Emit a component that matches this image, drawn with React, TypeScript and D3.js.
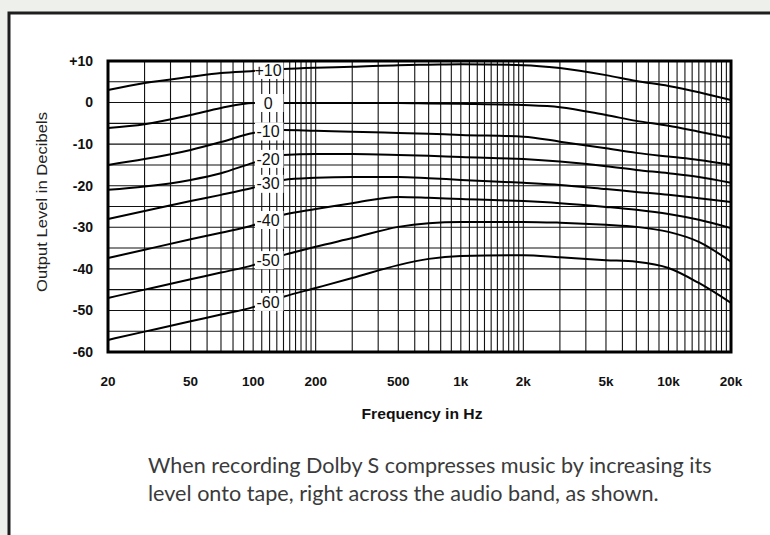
import React from "react";
import * as d3 from "d3";

const freqs = [20, 30, 50, 70, 100, 140, 200, 300, 500, 700, 1000, 2000, 3000, 5000, 7000, 10000, 14000, 20000];

// output level (dB) for each input level
const curveP10 = [3.0, 4.7, 6.2, 7.1, 7.6, 8.1, 8.4, 8.6, 9.0, 9.1, 9.2, 9.0, 8.3, 6.6, 5.2, 4.0, 2.5, 0.6];
const curve0 = [-6.1, -5.2, -3.0, -1.3, -0.1, -0.1, -0.1, -0.1, -0.1, -0.2, -0.3, -0.6, -1.1, -3.0, -4.4, -5.6, -7.0, -8.5];
const curveM10 = [-15.0, -13.6, -11.4, -9.5, -7.3, -6.6, -6.8, -7.0, -7.3, -7.5, -7.8, -8.2, -9.4, -11.0, -12.1, -13.0, -13.8, -15.0];
const curveM20 = [-21.0, -20.2, -18.6, -17.0, -14.5, -12.6, -12.4, -12.4, -12.6, -12.8, -13.1, -13.6, -14.2, -15.3, -16.2, -17.0, -17.9, -19.3];
const curveM30 = [-28.0, -26.1, -23.7, -22.2, -20.5, -18.6, -18.1, -17.9, -17.9, -18.2, -18.6, -19.3, -19.8, -20.8, -21.5, -22.2, -23.0, -23.9];
const curveM40 = [-37.4, -35.4, -32.9, -31.3, -29.5, -27.0, -25.6, -24.2, -22.7, -22.9, -23.2, -23.7, -24.2, -25.1, -25.8, -26.8, -28.2, -30.2];
const curveM50 = [-47.0, -45.0, -42.5, -40.9, -39.1, -36.7, -34.7, -32.6, -29.9, -29.0, -28.7, -28.7, -28.9, -29.4, -29.9, -31.1, -33.5, -38.3];
const curveM60 = [-57.1, -55.1, -52.6, -51.0, -49.2, -46.7, -44.6, -42.2, -39.1, -37.6, -36.9, -36.7, -37.2, -37.9, -38.3, -39.8, -43.4, -48.2];

const curveLabels = ["+10", "0", "-10", "-20", "-30", "-40", "-50", "-60"];
const curves = [curveP10, curve0, curveM10, curveM20, curveM30, curveM40, curveM50, curveM60];

const yTicks = [10, 0, -10, -20, -30, -40, -50, -60];
const yTickLabels = ["+10", "0", "-10", "-20", "-30", "-40", "-50", "-60"];
const xTicks = [20, 50, 100, 200, 500, 1000, 2000, 5000, 10000, 20000];
const xTickLabels = ["20", "50", "100", "200", "500", "1k", "2k", "5k", "10k", "20k"];

const caption = [
  "When recording Dolby S compresses music by increasing its",
  "level onto tape, right across the audio band, as shown.",
];

// log paper grid lines
const gridFreqs: number[] = [];
for (let f = 20; f <= 100; f += 10) gridFreqs.push(f);
for (let f = 110; f <= 200; f += 10) gridFreqs.push(f);
for (let f = 300; f <= 1000; f += 100) gridFreqs.push(f);
for (let f = 1100; f <= 2000; f += 100) gridFreqs.push(f);
for (let f = 3000; f <= 10000; f += 1000) gridFreqs.push(f);
for (let f = 11000; f <= 20000; f += 1000) gridFreqs.push(f);
const gridLevels = d3.range(-60, 11, 5);

const labelFreq = 118;

export default function App() {
  const left = 108, right = 731, top = 61, bottom = 352;

  const x = d3.scaleLog().domain([20, 20000]).range([left, right]);
  const y = d3.scaleLinear().domain([10, -60]).range([top, bottom]);

  const line = d3
    .line<number>()
    .x((_, i) => x(freqs[i]))
    .y((d) => y(d))
    .curve(d3.curveMonotoneX);

  const labelY = (c: number[]) => y((c[freqs.indexOf(100)] + c[freqs.indexOf(140)]) / 2);

  return (
    <svg
      width={770}
      height={535}
      style={{ position: "absolute", left: 0, top: 0, display: "block" }}
    >
      <rect x={0} y={0} width={770} height={535} fill="#eef0eb" />
      <rect x={9} y={13} width={800} height={600} fill="#fff" stroke="#1e1e1e" strokeWidth={3} />

      <g stroke="#111" strokeWidth={1.1}>
        {gridFreqs.map((f) => (
          <line key={"v" + f} x1={x(f)} x2={x(f)} y1={top} y2={bottom} />
        ))}
        {gridLevels.map((v) => (
          <line key={"h" + v} x1={left} x2={right} y1={y(v)} y2={y(v)} />
        ))}
      </g>

      <g fill="none" stroke="#000" strokeWidth={2}>
        {curves.map((c, i) => (
          <path key={i} d={line(c) || ""} />
        ))}
      </g>

      <g>
        {curves.map((c, i) => {
          const ly = labelY(c);
          return (
            <g key={i}>
              <rect x={x(102)} y={ly - 9} width={x(140) - x(102)} height={18} fill="#fff" />
              <text
                x={x(labelFreq)}
                y={ly}
                dy="0.35em"
                textAnchor="middle"
                fontFamily="Liberation Sans, Arial, sans-serif"
                fontSize={16}
                fill="#111"
              >
                {curveLabels[i]}
              </text>
            </g>
          );
        })}
      </g>

      <rect x={left} y={top} width={right - left} height={bottom - top} fill="none" stroke="#000" strokeWidth={3} />

      <g fontFamily="Liberation Sans, Arial, sans-serif" fontWeight="bold" fill="#111">
        {yTicks.map((v, i) => (
          <text key={v} x={93} y={y(v)} dy="0.35em" textAnchor="end" fontSize={14}>
            {yTickLabels[i]}
          </text>
        ))}
        {xTicks.map((f, i) => (
          <text key={f} x={x(f)} y={386} textAnchor="middle" fontSize={13.5}>
            {xTickLabels[i]}
          </text>
        ))}
        <text x={422} y={419} textAnchor="middle" fontSize={14} textLength={121} lengthAdjust="spacingAndGlyphs">
          Frequency in Hz
        </text>
      </g>

      <text
        transform={`translate(47, 202) rotate(-90)`}
        textAnchor="middle"
        fontFamily="Liberation Sans, Arial, sans-serif"
        fontSize={14}
        fill="#222"
        textLength={180}
        lengthAdjust="spacingAndGlyphs"
      >
        Output Level in Decibels
      </text>

      <g fontFamily="Lato, sans-serif" fontSize={21.6} fill="#3b3b3b">
        {caption.map((t, i) => (
          <text key={i} x={148} y={473 + i * 28}>
            {t}
          </text>
        ))}
      </g>
    </svg>
  );
}
